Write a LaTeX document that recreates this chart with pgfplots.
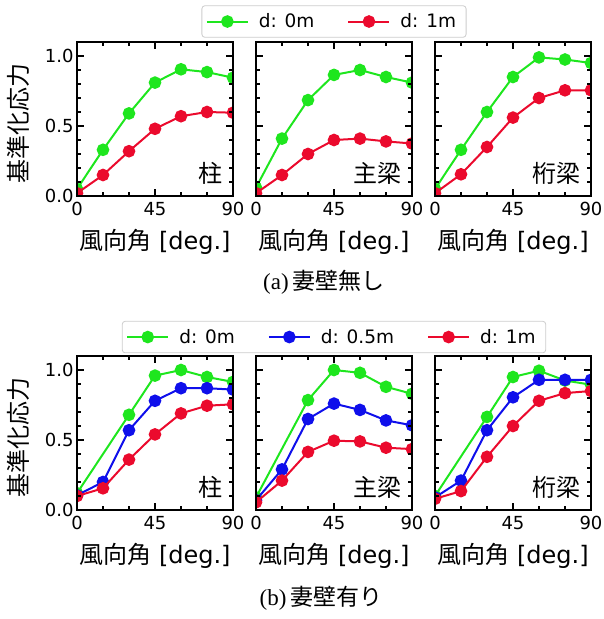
\documentclass[border=0pt]{standalone}
\usepackage{pgfplots}
\pgfplotsset{compat=1.18}
\usepackage{fontspec}
\setmainfont{DejaVu Sans}
\newfontfamily\jp{Noto Sans CJK JP}
\newfontfamily\serif{Liberation Serif}
\definecolor{cg}{RGB}{30,230,30}
\definecolor{cr}{RGB}{235,10,45}
\definecolor{cb}{RGB}{15,15,235}

\tikzset{plab/.style={anchor=base east, font=\jp\fontsize{24}{24}\selectfont, inner sep=0pt}}

\pgfplotsset{
  panel/.style={
    scale only axis, width=156pt, height=154pt,
    xmin=0, xmax=90, ymin=0, ymax=1.1,
    xtick={0,45,90}, minor xtick={15,30,60,75},
    ytick={0,0.5,1}, minor ytick={0.1,0.2,0.3,0.4,0.6,0.7,0.8,0.9},
    tick align=inside, xtick pos=both, ytick pos=both,
    major tick length=7pt, minor tick length=4pt,
    major tick style={line width=1.8pt, black},
    minor tick style={line width=1.2pt, black},
    axis line style={line width=2.4pt, black},
    clip marker paths=true, axis on top,
    tick label style={font=\fontsize{18}{18}\selectfont},
    /pgf/number format/assume math mode=true,
    yticklabel style={/pgf/number format/.cd, fixed, fixed zerofill, precision=1},
    xticklabel style={yshift=-3pt},
    xlabel={{\jp 風向角} [deg.]},
    label style={font=\fontsize{24}{24}\selectfont},
    xlabel style={at={(axis description cs:0.5,-0.30)}, anchor=center},
    ylabel style={at={(axis description cs:-0.378,0.47)}, anchor=center},
    every axis plot/.append style={line width=2pt, mark=*, mark size=5.3pt},
    legend image code/.code={\draw[mark repeat=2,mark phase=2,#1] plot coordinates {(0pt,0pt) (20.5pt,0pt) (41pt,0pt)};},
    legend style={draw=black!20, rounded corners=3pt, line width=0.8pt, fill=white,
      font=\fontsize{18.5}{21}\selectfont, inner xsep=4pt, inner ysep=3pt,
      nodes={inner xsep=6pt, inner ysep=5pt},
      /tikz/every odd column/.append style={column sep=4pt},
      /tikz/every even column/.append style={column sep=27pt}},
    legend cell align=left,
  },
  noy/.style={yticklabels={}},
}

\begin{document}
\begin{tikzpicture}
\path[use as bounding box] (0pt,0pt) rectangle (603pt,-619pt);

% ---------- (a) top row ----------
\begin{axis}[panel, at={(77pt,-42pt)}, anchor=north west, ylabel={\jp 基準化応力}]
\addplot[color=cg] coordinates {(0,0.05) (15,0.33) (30,0.59) (45,0.81) (60,0.905) (75,0.885) (90,0.845)};
\addplot[color=cr] coordinates {(0,0.02) (15,0.15) (30,0.32) (45,0.48) (60,0.57) (75,0.60) (90,0.595)};
\node[plab] at (rel axis cs:0.936,0.09) {柱};
\end{axis}

\begin{axis}[panel, noy, at={(256pt,-42pt)}, anchor=north west,
  legend columns=2, legend style={at={(axis description cs:0.5,1.133)}, anchor=center}]
\addplot[color=cg] coordinates {(0,0.06) (15,0.41) (30,0.685) (45,0.865) (60,0.90) (75,0.85) (90,0.81)};
\addlegendentry{d: 0m}
\addplot[color=cr] coordinates {(0,0.02) (15,0.15) (30,0.30) (45,0.40) (60,0.41) (75,0.39) (90,0.375)};
\addlegendentry{d: 1m}
\node[plab] at (rel axis cs:0.936,0.09) {主梁};
\end{axis}

\begin{axis}[panel, noy, at={(435pt,-42pt)}, anchor=north west]
\addplot[color=cg] coordinates {(0,0.05) (15,0.33) (30,0.60) (45,0.85) (60,0.99) (75,0.975) (90,0.95)};
\addplot[color=cr] coordinates {(0,0.02) (15,0.155) (30,0.35) (45,0.56) (60,0.70) (75,0.755) (90,0.755)};
\node[plab] at (rel axis cs:0.936,0.09) {桁梁};
\end{axis}

\node[font=\fontsize{23}{23}\selectfont] at (324pt,-282pt) {{\serif (a)}\kern4pt{\jp 妻壁無し}};

% ---------- (b) bottom row ----------
\begin{axis}[panel, at={(77pt,-356pt)}, anchor=north west, ylabel={\jp 基準化応力}]
\addplot[color=cg] coordinates {(0,0.12) (30,0.68) (45,0.96) (60,1.0) (75,0.95) (90,0.915)};
\addplot[color=cb] coordinates {(0,0.105) (15,0.20) (30,0.57) (45,0.78) (60,0.87) (75,0.87) (90,0.86)};
\addplot[color=cr] coordinates {(0,0.10) (15,0.155) (30,0.36) (45,0.54) (60,0.69) (75,0.745) (90,0.755)};
\node[plab] at (rel axis cs:0.936,0.09) {柱};
\end{axis}

\begin{axis}[panel, noy, at={(256pt,-356pt)}, anchor=north west,
  legend columns=3, legend style={at={(axis description cs:0.5,1.123)}, anchor=center}]
\addplot[color=cg] coordinates {(0,0.09) (30,0.785) (45,1.0) (60,0.98) (75,0.88) (90,0.83)};
\addlegendentry{d: 0m}
\addplot[color=cb] coordinates {(0,0.07) (15,0.29) (30,0.65) (45,0.76) (60,0.715) (75,0.64) (90,0.605)};
\addlegendentry{d: 0.5m}
\addplot[color=cr] coordinates {(0,0.055) (15,0.21) (30,0.415) (45,0.495) (60,0.49) (75,0.445) (90,0.435)};
\addlegendentry{d: 1m}
\node[plab] at (rel axis cs:0.936,0.09) {主梁};
\end{axis}

\begin{axis}[panel, noy, at={(435pt,-356pt)}, anchor=north west]
\addplot[color=cg] coordinates {(0,0.10) (30,0.665) (45,0.95) (60,0.995) (75,0.925) (90,0.895)};
\addplot[color=cb] coordinates {(0,0.09) (15,0.21) (30,0.57) (45,0.805) (60,0.93) (75,0.93) (90,0.93)};
\addplot[color=cr] coordinates {(0,0.08) (15,0.135) (30,0.38) (45,0.60) (60,0.78) (75,0.835) (90,0.85)};
\node[plab] at (rel axis cs:0.936,0.09) {桁梁};
\end{axis}

\node[font=\fontsize{23}{23}\selectfont] at (321pt,-598pt) {{\serif (b)}\kern4pt{\jp 妻壁有り}};
\end{tikzpicture}
\end{document}
